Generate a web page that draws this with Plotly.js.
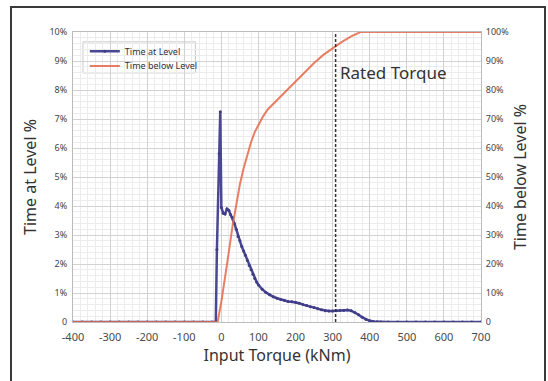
<!DOCTYPE html>
<html><head><meta charset="utf-8">
<script src="https://cdn.plot.ly/plotly-3.0.1.min.js"></script>
<style>
html,body{margin:0;padding:0;background:#fff;}
#wrap{position:relative;width:548px;height:381px;}
#chart{position:absolute;left:0;top:0;width:548px;height:381px;}
#frame{position:absolute;left:10px;top:6px;width:532px;height:390px;border:2px solid #3a3a3a;pointer-events:none;}
</style></head>
<body>
<div id="wrap"><div id="chart"></div><div id="frame"></div></div>
<script>
// Time at Level (%), left axis
const levelTorque = [-400,-375,-350,-325,-300,-275,-250,-225,-200,-175,-150,-125,-100,-75,-50,-25,-15,-12,-6,-3,0,5,10,15,20,25,30,35,40,45,50,55,60,65,70,75,80,85,90,95,100,110,120,130,140,150,160,170,180,190,200,210,220,230,240,250,260,270,280,290,300,310,320,330,340,350,360,370,380,390,400,410,420,430,450,475,500,525,550,575,600,625,650,675,700];
const levelPct = [0,0,0,0,0,0,0,0,0,0,0,0,0,0,0,0,0,2.5,5.8,7.25,3.95,3.75,3.72,3.9,3.85,3.7,3.6,3.4,3.2,2.95,2.8,2.6,2.45,2.3,2.12,1.95,1.8,1.65,1.5,1.38,1.28,1.13,1.02,0.94,0.87,0.82,0.78,0.74,0.71,0.7,0.68,0.65,0.6,0.57,0.53,0.5,0.46,0.42,0.39,0.38,0.38,0.39,0.4,0.4,0.41,0.39,0.33,0.25,0.16,0.09,0.04,0.02,0.01,0,0,0,0,0,0,0,0,0,0,0,0];
// Time below Level (%), right axis
const belowTorque = [-400,-375,-350,-325,-300,-275,-250,-225,-200,-175,-150,-125,-100,-75,-50,-25,-10,0,10,20,30,40,50,60,70,80,90,100,113,125,150,175,200,225,250,275,300,325,350,375,400,450,500,550,600,650,700];
const belowPct = [0,0,0,0,0,0,0,0,0,0,0,0,0,0,0,0,0,7,15,24,33,41,47.5,53,57.5,62,65.5,68,71,73.3,76.5,79.8,83,86.3,89.3,92.1,94.5,96.6,98.5,100,100,100,100,100,100,100,100];
const ratedTorque = 308;
const xTicks = [-400,-300,-200,-100,0,100,200,300,400,500,600,700];
const leftTickVals = [0,1,2,3,4,5,6,7,8,9,10];
const leftTickText = ['0','1%','2%','3%','4%','5%','6%','7%','8%','9%','10%'];
const rightTickVals = [0,10,20,30,40,50,60,70,80,90,100];
const rightTickText = ['0','10%','20%','30%','40%','50%','60%','70%','80%','90%','100%'];

const font = '"Noto Sans", "Open Sans", sans-serif';
const traces = [
  {x: levelTorque, y: levelPct, name: 'Time at Level', type: 'scatter', mode: 'lines+markers',
   line: {color: '#4a4894', width: 2.5}, marker: {color: '#3e3c86', size: 3}, yaxis: 'y', legend: 'legend'},
  {x: belowTorque, y: belowPct, name: 'Time below Level', type: 'scatter', mode: 'lines',
   line: {color: '#e4694a', width: 2}, opacity: 0.85, yaxis: 'y2', legend: 'legend2'}
];
const gridMajor = '#d2d2d2', gridMinor = '#ececec';
const legendCommon = {xanchor: 'left', yanchor: 'middle', bgcolor: 'rgba(0,0,0,0)', borderwidth: 0,
  font: {size: 9, color: '#333', family: font}, itemwidth: 30};
const layout = {
  width: 548, height: 381,
  margin: {l: 73, r: 67, t: 32, b: 59},
  paper_bgcolor: '#fff', plot_bgcolor: '#fff',
  font: {family: font, color: '#444'},
  showlegend: true,
  legend: Object.assign({x: 0.029, y: 0.934}, legendCommon),
  legend2: Object.assign({x: 0.029, y: 0.883}, legendCommon),
  xaxis: {range: [-400, 700], tickvals: xTicks, ticktext: xTicks.map(String), showgrid: true, gridcolor: gridMajor,
    minor: {dtick: 20, showgrid: true, gridcolor: gridMinor}, zeroline: false, showline: true, linecolor: '#bbb', mirror: true,
    ticks: '', ticklabelstandoff: 5, tickfont: {size: 11, color: '#4a4a4a'},
    title: {text: 'Input Torque (kNm)', font: {size: 16, color: '#333'}, standoff: 2}},
  yaxis: {range: [0, 10], tickvals: leftTickVals, ticktext: leftTickText, showgrid: true, gridcolor: gridMajor,
    minor: {dtick: 0.2, showgrid: true, gridcolor: gridMinor}, zeroline: false, showline: true, linecolor: '#bbb',
    ticks: '', ticklabelstandoff: 3, tickfont: {size: 9, color: '#444'},
    title: {text: 'Time at Level %', font: {size: 16, color: '#333'}, standoff: 8}},
  yaxis2: {range: [0, 100], overlaying: 'y', side: 'right', tickvals: rightTickVals, ticktext: rightTickText,
    showgrid: false, zeroline: false, showline: true, linecolor: '#bbb', ticks: '', ticklabelstandoff: 2,
    tickfont: {size: 9, color: '#444'},
    title: {text: 'Time below Level %', font: {size: 16, color: '#333'}, standoff: 6}},
  shapes: [
    {type: 'rect', xref: 'paper', yref: 'paper', x0: 0.0245, x1: 0.30, y0: 0.859, y1: 0.966, layer: 'between',
     fillcolor: 'rgba(255,255,255,0.85)', line: {color: '#c8c8c8', width: 1}},
    {type: 'line', xref: 'x', yref: 'paper', x0: ratedTorque, x1: ratedTorque, y0: 0, y1: 1,
     line: {color: '#333', width: 1.5, dash: '3px,2px'}}],
  annotations: [{x: ratedTorque, y: 8.6, xref: 'x', yref: 'y', xanchor: 'left', yanchor: 'middle', xshift: 2,
    text: 'Rated Torque', showarrow: false, font: {size: 17, color: '#333', family: font}}]
};
Plotly.newPlot('chart', traces, layout, {displayModeBar: false, staticPlot: true});
</script>
</body></html>
